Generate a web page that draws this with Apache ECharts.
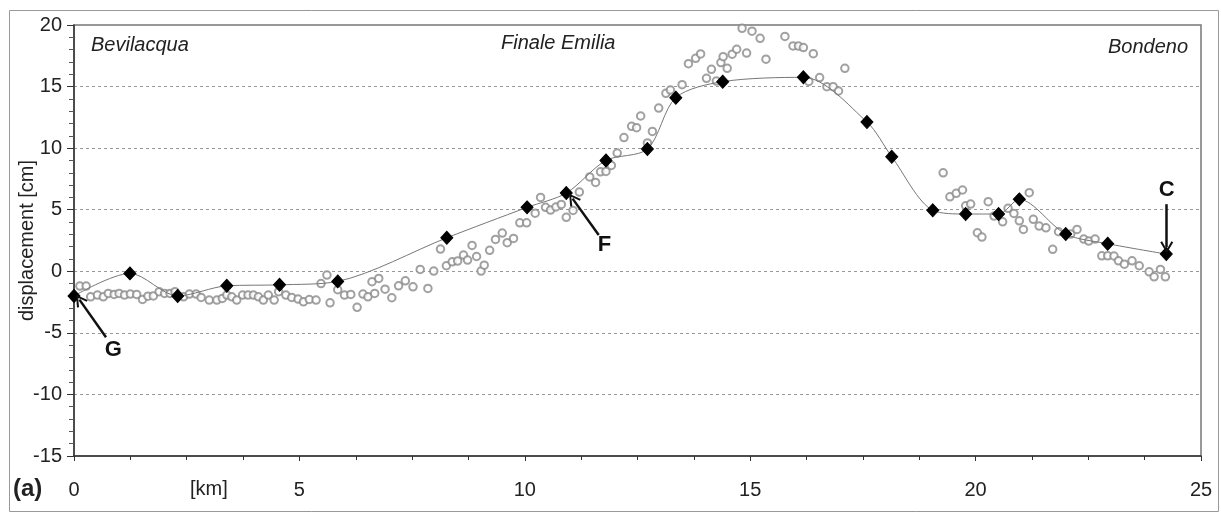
<!DOCTYPE html>
<html>
<head>
<meta charset="utf-8">
<script src="https://cdn.jsdelivr.net/npm/echarts@6/dist/echarts.min.js"></script>
<style>
html,body{margin:0;padding:0;background:#fff;}
#chart{width:1221px;height:512px;}
</style>
</head>
<body>
<div id="chart"></div>
<script>
// Benchmark (levelling) displacement, diamonds [km, cm]
const benchKm = [0, 1.24, 2.30, 3.39, 4.56, 5.85, 8.27, 10.05, 10.92, 11.80, 12.72, 13.35, 14.39, 16.18, 17.59, 18.14, 19.05, 19.78, 20.51, 20.97, 22.0, 22.93, 24.23];
const benchCm = [-2.0, -0.17, -2.0, -1.18, -1.1, -0.82, 2.72, 5.19, 6.35, 9.0, 9.93, 14.1, 15.4, 15.75, 12.12, 9.3, 4.95, 4.65, 4.65, 5.84, 3.02, 2.24, 1.4];

// PS-InSAR points, open circles [km, cm]
const psKm = [0.13,0.27,0.37,0.52,0.65,0.76,0.89,1.0,1.12,1.25,1.39,1.52,1.64,1.76,1.89,2.01,2.13,2.24,2.43,2.56,2.71,2.82,3.0,3.17,3.29,3.39,3.50,3.61,3.74,3.86,3.98,4.09,4.20,4.31,4.44,4.54,4.70,4.83,4.97,5.09,5.22,5.37,5.48,5.61,5.68,5.85,6.0,6.14,6.28,6.41,6.52,6.61,6.67,6.76,6.9,7.05,7.2,7.35,7.52,7.68,7.85,7.98,8.13,8.26,8.39,8.51,8.64,8.73,8.83,8.93,9.03,9.1,9.22,9.35,9.5,9.61,9.75,9.89,10.04,10.23,10.35,10.46,10.57,10.69,10.81,10.92,11.07,11.21,11.44,11.57,11.68,11.80,11.92,12.05,12.2,12.37,12.48,12.57,12.72,12.83,12.97,13.13,13.23,13.49,13.63,13.79,13.9,14.03,14.14,14.25,14.35,14.4,14.49,14.6,14.7,14.82,14.92,15.04,15.22,15.35,15.77,15.95,16.07,16.18,16.3,16.4,16.54,16.7,16.84,16.96,17.1,19.28,19.43,19.57,19.71,19.78,19.89,20.04,20.14,20.28,20.41,20.6,20.72,20.85,20.97,21.06,21.19,21.28,21.41,21.56,21.71,21.84,22.11,22.25,22.4,22.51,22.65,22.8,22.93,23.07,23.17,23.3,23.47,23.63,23.85,23.96,24.1,24.21];
const psCm = [-1.2,-1.2,-2.07,-1.93,-2.07,-1.8,-1.88,-1.8,-1.93,-1.85,-1.88,-2.29,-2.02,-2.0,-1.66,-1.8,-1.8,-1.66,-2.07,-1.85,-1.85,-2.12,-2.34,-2.34,-2.2,-1.93,-2.07,-2.34,-1.93,-1.93,-1.93,-2.07,-2.34,-1.93,-2.34,-1.66,-1.93,-2.12,-2.26,-2.48,-2.29,-2.34,-1.0,-0.31,-2.56,-1.5,-1.93,-1.88,-2.93,-1.85,-2.07,-0.85,-1.8,-0.58,-1.45,-2.15,-1.18,-0.77,-1.26,0.15,-1.39,0.02,1.8,0.45,0.77,0.83,1.32,0.91,2.1,1.2,0.02,0.5,1.7,2.59,3.1,2.32,2.67,3.94,3.94,4.72,6.0,5.19,4.97,5.22,5.43,4.38,4.94,6.43,7.66,7.22,8.08,8.11,8.6,9.6,10.86,11.77,11.66,12.61,10.42,11.36,13.25,14.45,14.72,15.15,16.86,17.29,17.65,15.67,16.4,15.45,16.95,17.43,16.48,17.63,18.03,19.73,17.72,19.5,18.92,17.22,19.07,18.3,18.29,18.17,15.42,17.67,15.73,14.99,14.99,14.64,16.48,8.0,6.05,6.33,6.6,5.32,5.46,3.13,2.78,5.65,4.48,4.02,5.11,4.7,4.1,3.4,6.38,4.22,3.67,3.53,1.78,3.21,3.02,3.4,2.62,2.45,2.62,1.26,1.26,1.24,0.85,0.58,0.85,0.45,-0.04,-0.45,0.15,-0.45];

// Axis ticks / labels
const xTicks = [0, 5, 10, 15, 20, 25];
const yTicks = [-15, -10, -5, 0, 5, 10, 15, 20];
const placeNames = ['Bevilacqua', 'Finale Emilia', 'Bondeno'];

// Annotation arrows (data coordinates): label, arrow tail, arrow tip, label position
const annLabels = ['G', 'F', 'C'];
const annTail = [[0.71, -5.35], [11.64, 2.94], [24.24, 5.45]];
const annTip = [[0.12, -2.3], [11.06, 5.9], [24.24, 1.95]];
const annText = [[0.87, -6.35], [11.77, 2.15], [24.24, 6.6]];

const FONT = '"Liberation Sans", Arial, sans-serif';
const chart = echarts.init(document.getElementById('chart'), null, {renderer: 'canvas'});

const benchData = benchKm.map((x, i) => [x, benchCm[i]]);
const psData = psKm.map((x, i) => [x, psCm[i]]);

const arrowLines = annLabels.map((l, i) => [
  {coord: annTail[i]},
  {coord: annTip[i]}
]);
const arrowLabels = annLabels.map((l, i) => ({
  coord: annText[i],
  value: l
}));
const CHEVRON = 'path://M50,0 L100,88 L86,96 L50,30 L14,96 L0,88 Z';

chart.setOption({
  animation: false,
  backgroundColor: '#fff',
  grid: {left: 74, right: 20, top: 25, bottom: 56, outerBoundsMode: 'none', containLabel: false,
         show: true, borderColor: '#777', borderWidth: 1.5, backgroundColor: 'transparent'},
  xAxis: {
    type: 'value', min: xTicks[0], max: xTicks[xTicks.length - 1], interval: 5,
    axisLine: {show: true, onZero: false, lineStyle: {color: '#333', width: 1.5}},
    axisTick: {show: true, length: 5, lineStyle: {color: '#333'}},
    minorTick: {show: true, splitNumber: 4, length: 4, lineStyle: {color: '#333'}},
    axisLabel: {fontSize: 20, color: '#222', fontFamily: FONT, margin: 24},
    splitLine: {show: false}
  },
  yAxis: {
    type: 'value', min: yTicks[0], max: yTicks[yTicks.length - 1], interval: 5,
    name: 'displacement [cm]', nameLocation: 'middle', nameGap: 37, nameRotate: 90, nameMoveOverlap: false,
    nameTextStyle: {fontSize: 20, color: '#222', fontFamily: FONT},
    axisLine: {show: true, onZero: false, lineStyle: {color: '#333', width: 1.5}},
    axisTick: {show: true, length: 7, lineStyle: {color: '#333'}},
    minorTick: {show: true, splitNumber: 5, length: 5, lineStyle: {color: '#555'}},
    axisLabel: {fontSize: 20, color: '#222', fontFamily: FONT, margin: 12},
    splitLine: {show: true, lineStyle: {color: '#999', type: [3, 3], width: 1}}
  },
  series: [
    {
      type: 'scatter', data: psData, symbol: 'emptyCircle', symbolSize: 7.5,
      itemStyle: {color: '#8a8a8a', borderColor: '#8a8a8a', borderWidth: 1},
      z: 2, silent: true
    },
    {
      type: 'line', data: benchData, smooth: 0.3,
      symbol: 'diamond', symbolSize: [12, 13], showAllSymbol: true,
      itemStyle: {color: '#000', borderColor: '#000'},
      lineStyle: {color: '#777', width: 1},
      z: 3, silent: true,
      markLine: {
        silent: true, symbol: ['none', CHEVRON], symbolSize: [13, 12],
        lineStyle: {color: '#111', width: 2.5, type: 'solid'},
        label: {show: false},
        data: arrowLines
      },
      markPoint: {
        silent: true, symbol: 'circle', symbolSize: 1,
        itemStyle: {color: 'rgba(0,0,0,0)'},
        label: {show: true, position: 'inside', formatter: p => p.value, fontSize: 22, fontWeight: 'bold', color: '#111', fontFamily: FONT},
        data: arrowLabels
      }
    }
  ],
  graphic: [
    {type: 'rect', left: 7, top: 8, shape: {width: 1209, height: 501}, style: {fill: 'none', stroke: '#999', lineWidth: 1}, silent: true},
    {type: 'text', left: 91, top: 35, style: {text: placeNames[0], font: 'italic 20px ' + FONT, fill: '#222'}},
    {type: 'text', left: 501, top: 33, style: {text: placeNames[1], font: 'italic 20px ' + FONT, fill: '#222'}},
    {type: 'text', right: 33, top: 37, style: {text: placeNames[2], font: 'italic 20px ' + FONT, fill: '#222'}},
    {type: 'text', left: 190, top: 479, style: {text: '[km]', font: '20px ' + FONT, fill: '#222'}},
    {type: 'text', left: 13, top: 477, style: {text: '(a)', font: 'bold 24px ' + FONT, fill: '#222'}}
  ]
});
</script>
</body>
</html>
